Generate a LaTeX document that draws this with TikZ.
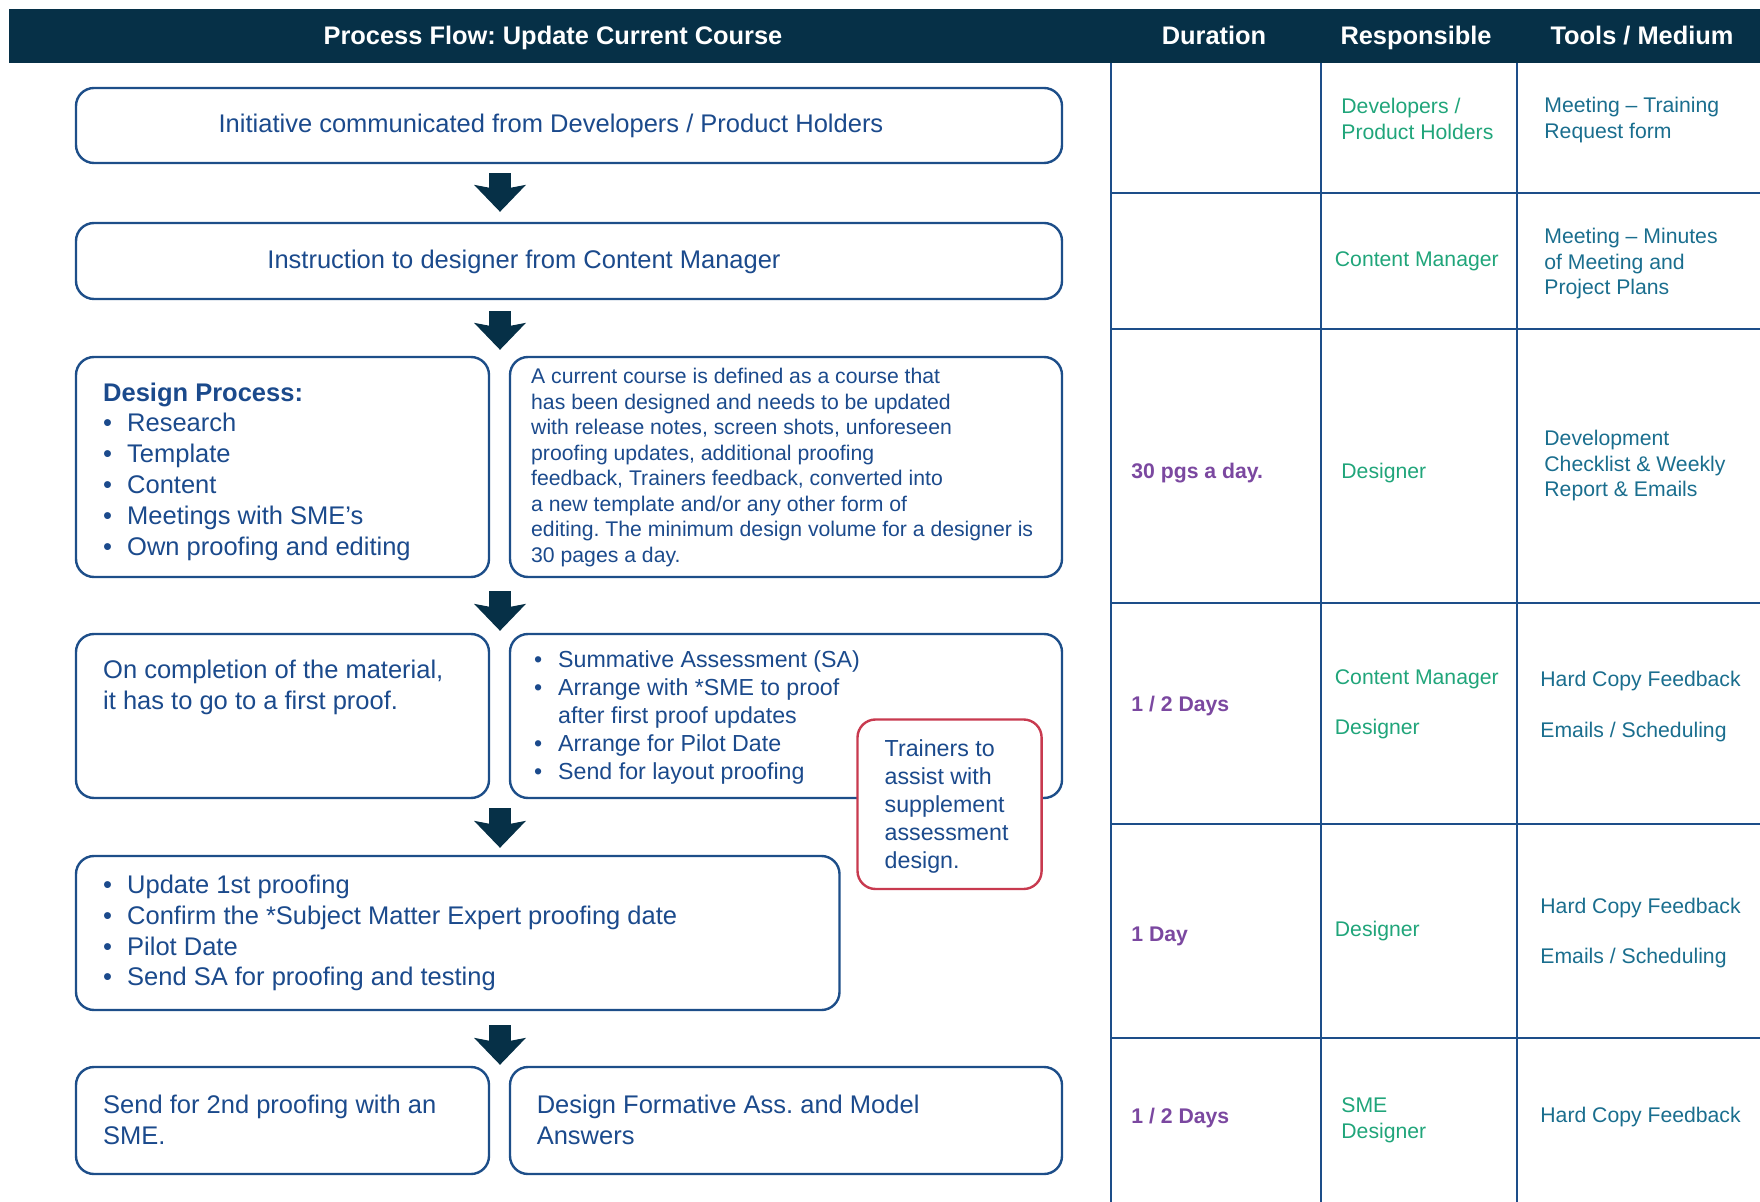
\documentclass[tikz,border=0pt]{standalone}
\usepackage{fontspec}
\setmainfont{Liberation Sans}
\usepackage{tikz}
\usetikzlibrary{calc}
\usetikzlibrary{fit}
\usetikzlibrary{arrows.meta}
\usepackage{xcolor}
\frenchspacing
\definecolor{navy}{HTML}{063047}
\definecolor{boxblue}{HTML}{1D4E89}
\definecolor{textblue}{HTML}{1B4A8C}
\definecolor{respgreen}{HTML}{20A57A}
\definecolor{toolteal}{HTML}{1A6E8E}
\definecolor{durpurple}{HTML}{7B48A0}
\definecolor{alertred}{HTML}{C83A4F}
\newcommand{\bul}{\makebox[12pt][l]{\textbullet}}
\newcommand{\bulgap}{\hspace*{12pt}}
\tikzset{
  flowbox/.style={draw=boxblue, line width=1.2pt, rounded corners=9pt, fill=white, inner sep=0pt},
  alertbox/.style={flowbox, draw=alertred},
  boxtext/.style={text=textblue, align=left, inner sep=0pt, anchor=west, yshift=-1.3pt, font=\fontsize{12.75}{15.4}\selectfont},
  smalltext/.style={boxtext, font=\fontsize{10.6}{12.75}\selectfont},
  midtext/.style={boxtext, font=\fontsize{11.6}{14}\selectfont},
  headtext/.style={text=white, inner sep=0pt, yshift=-1.7pt, text height=0.72em, text depth=0.21em, font=\bfseries\fontsize{12.7}{14}\selectfont},
  flowarrow/.style={draw=navy, line width=11pt, -{Stealth[length=13.5pt, width=26pt, inset=2.5pt, line width=0pt]}},
  gridline/.style={draw=boxblue, line width=1.2pt},
  celltext/.style={anchor=west, align=left, inner sep=0pt, yshift=-1.1pt, font=\fontsize{10.6}{12.9}\selectfont},
  resp/.style={celltext, text=respgreen},
  tool/.style={celltext, text=toolteal},
  dur/.style={celltext, text=durpurple, font=\bfseries\fontsize{10.6}{12}\selectfont},
}

\begin{document}
\begin{tikzpicture}[x=0.5pt, y=-0.5pt]
\useasboundingbox (0,0) rectangle (1760,1202);

%%%%%%%%%%%%%%%%%%%%%%%%%%%%%%%%%%%%%%%%%%%%%%%%%%%%%%%%%%%%%% Setup
\coordinate (C) at (0,0);
\coordinate (axis) at (500,0);

%%%%%%%%%%%%%%%%%%%%%%%%%%%%%%%%%%%%%%%%%%%%%%%%%%%%%%%%%%%%%% Header
\fill[navy] ($(C)+(9,9)$) rectangle ($(C)+(1760,63)$);
\node[headtext] (title) at ($(C)+(553,36)$) {Process Flow: Update Current Course};
\node[headtext] (hdur) at ($(C)+(1214,36)$) {Duration};
\node[headtext] (hresp) at ($(C)+(1416,36)$) {Responsible};
\node[headtext] (htool) at ($(C)+(1642,36)$) {Tools / Medium};

%%%%%%%%%%%%%%%%%%%%%%%%%%%%%%%%%%%%%%%%%%%%%%%%%%%%%%%%%%%%%% Table
\foreach \y in {193,329,603,824,1038}
  \draw[gridline] ($(C)+(1111,\y)$) -- ($(C)+(1760,\y)$);
\foreach \x in {1111,1321,1517}
  \draw[gridline] ($(C)+(\x,63)$) -- ($(C)+(\x,1202)$);

\node[resp] (resp1) at ($(C)+(1341,117)$) {Developers /\\Product Holders};
\node[tool] (tool1) at ($(C)+(1544,118)$) {Meeting -- Training\\Request form};

\node[resp] (resp2) at ($(C)+(1334.5,259)$) {Content Manager};
\node[tool] (tool2) at ($(C)+(1544,261.5)$) {Meeting -- Minutes\\of Meeting and\\Project Plans};

\node[dur] (dur3) at ($(C)+(1131,471)$) {30 pgs a day.};
\node[resp] (resp3) at ($(C)+(1341,471)$) {Designer};
\node[tool] (tool3) at ($(C)+(1544,463.5)$) {Development\\Checklist \& Weekly\\Report \& Emails};

\node[dur] (dur4) at ($(C)+(1131,704)$) {1 / 2 Days};
\node[resp] (resp4a) at ($(C)+(1334.5,677)$) {Content Manager};
\node[resp] (resp4b) at ($(C)+(1334.5,727)$) {Designer};
\node[tool] (tool4a) at ($(C)+(1540,679)$) {Hard Copy Feedback};
\node[tool] (tool4b) at ($(C)+(1540,729.6)$) {Emails / Scheduling};

\node[dur] (dur5) at ($(C)+(1131,934)$) {1 Day};
\node[resp] (resp5) at ($(C)+(1334.5,929)$) {Designer};
\node[tool] (tool5a) at ($(C)+(1540,906)$) {Hard Copy Feedback};
\node[tool] (tool5b) at ($(C)+(1540,956)$) {Emails / Scheduling};

\node[dur] (dur6) at ($(C)+(1131,1115.7)$) {1 / 2 Days};
\node[resp] (resp6) at ($(C)+(1341,1118)$) {SME\\Designer};
\node[tool] (tool6) at ($(C)+(1540,1114.5)$) {Hard Copy Feedback};

%%%%%%%%%%%%%%%%%%%%%%%%%%%%%%%%%%%%%%%%%%%%%%%%%%%%%%%%%%%%%% Flow
\node[flowbox, fit={($(C)+(76,88)$) ($(C)+(1062,163)$)}] (initiative) {};
\node[boxtext, anchor=center] (initiative-txt) at ($(initiative.center)+(-18,-2)$) {Initiative communicated from Developers / Product Holders};

\node[flowbox, fit={($(C)+(76,223)$) ($(C)+(1062,299)$)}] (instruction) {};
\node[boxtext, anchor=center] (instruction-txt) at ($(instruction.center)+(-45,-2)$) {Instruction to designer from Content Manager};

\node[flowbox, fit={($(C)+(76,357)$) ($(C)+(489,577)$)}] (design) {};
\node[boxtext] (design-txt) at ($(design.west)+(28,2)$) {\textbf{Design Process:}\\
  \bul Research\\ \bul Template\\ \bul Content\\ \bul Meetings with SME's\\ \bul Own proofing and editing};

\node[flowbox, fit={($(C)+(510,357)$) ($(C)+(1062,577)$)}] (defn) {};
\node[smalltext] (defn-txt) at ($(defn.west)+(22,-2)$) {A current course is defined as a course that\\
  has been designed and needs to be updated\\
  with release notes, screen shots, unforeseen\\
  proofing updates, additional proofing\\
  feedback, Trainers feedback, converted into\\
  a new template and/or any other form of\\
  editing. The minimum design volume for a designer is\\
  30 pages a day.};

\node[flowbox, fit={($(C)+(76,634)$) ($(C)+(489,798)$)}] (firstproof) {};
\node[boxtext] (firstproof-txt) at ($(firstproof.west)+(28,-31.5)$) {On completion of the material,\\it has to go to a first proof.};

\node[flowbox, fit={($(C)+(510,634)$) ($(C)+(1062,798)$)}] (summative) {};
\node[midtext] (summative-txt) at ($(summative.west)+(25,-1)$) {\bul Summative Assessment (SA)\\
  \bul Arrange with *SME to proof\\ \bulgap after first proof updates\\
  \bul Arrange for Pilot Date\\ \bul Send for layout proofing};

\node[alertbox, fit={($(C)+(857.5,719.5)$) ($(C)+(1041.6,889)$)}] (trainers) {};
\node[midtext] (trainers-txt) at ($(trainers.west)+(28,0)$) {Trainers to\\assist with\\supplement\\assessment\\design.};

\node[flowbox, fit={($(C)+(76,856)$) ($(C)+(839.5,1010)$)}] (update) {};
\node[boxtext] (update-txt) at ($(update.west)+(28,-2.5)$) {\bul Update 1st proofing\\
  \bul Confirm the *Subject Matter Expert proofing date\\ \bul Pilot Date\\ \bul Send SA for proofing and testing};

\node[flowbox, fit={($(C)+(76,1067)$) ($(C)+(489,1174)$)}] (secondproof) {};
\node[boxtext] (secondproof-txt) at ($(secondproof.west)+(28,-3.5)$) {Send for 2nd proofing with an\\SME.};

\node[flowbox, fit={($(C)+(510,1067)$) ($(C)+(1062,1174)$)}] (formative) {};
\node[boxtext] (formative-txt) at ($(formative.west)+(27.6,-3.5)$) {Design Formative Ass. and Model\\Answers};

%%%%%%%%%%%%%%%%%%%%%%%%%%%%%%%%%%%%%%%%%%%%%%%%%%%%%%%%%%%%%% Arrows
\draw[flowarrow] ([yshift=-4.5pt]initiative.south -| axis) -- ([yshift=5pt]instruction.north -| axis);
\draw[flowarrow] ([yshift=-5.5pt]instruction.south -| axis) -- ([yshift=3pt]design.north -| axis);
\draw[flowarrow] ([yshift=-6.5pt]design.south -| axis) -- ([yshift=1pt]firstproof.north -| axis);
\draw[flowarrow] ([yshift=-4.5pt]firstproof.south -| axis) -- ([yshift=3.5pt]update.north -| axis);
\draw[flowarrow] ([yshift=-7pt]update.south -| axis) -- ([yshift=0.5pt]secondproof.north -| axis);

\end{tikzpicture}
\end{document}
